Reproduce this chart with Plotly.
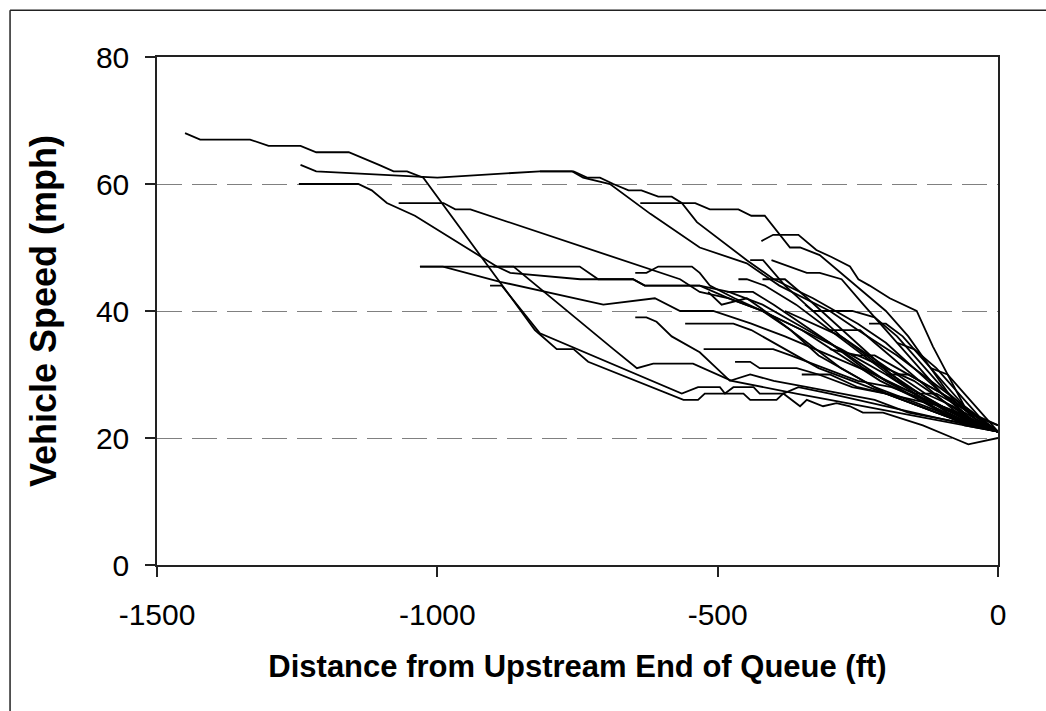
import plotly.graph_objects as go

# ---- data: distance from upstream end of queue (ft) and vehicle speed (mph) ----
v01_dist = [-1450, -1423, -1334, -1301, -1244, -1216, -1158, -1130, -1104, -1078, -1054, -1025, -826, -787, -757, -731, -561, -535, -523, -454, -442, -395, -383, -353, -341, -312, -288, -264, -241, -205, -134, -80, -53, 0]
v01_speed = [68, 67, 67, 66, 66, 65, 65, 64, 63, 62, 62, 61, 37, 34, 34, 32, 26, 26, 27, 27, 26, 26, 27, 25, 26, 25, 25.5, 25, 24, 24, 22, 20, 19, 20]
v02_dist = [-1244, -1216, -1000, -817, -791, -757, -733, -710, -686, -659, -636, -606, -582, -564, -537, -448, -400, -330, -250, -200, -150, -100, -50, 0]
v02_speed = [63, 62, 61, 62, 62, 62, 61, 61, 60, 59, 59, 58, 58, 57, 54, 48, 45, 42, 38, 35, 31, 27, 24, 21]
v03_dist = [-1247, -1141, -1117, -1090, -1040, -977, -894, -870, -745, -713, -651, -630, -532, -480, -420, -350, -280, -210, -140, -70, 0]
v03_speed = [60, 60, 59, 57, 55, 51.5, 47, 46, 45, 45, 45, 44, 44, 42, 40, 37, 33, 29, 26, 23, 21]
v04_dist = [-817, -790, -760, -740, -692, -620, -532, -448, -390, -300, -250, -180, -120, -60, 0]
v04_speed = [62, 62, 62, 61, 60, 55.3, 50, 47.5, 44, 40, 37, 33, 29, 25, 21]
v05_dist = [-1069, -989, -968, -941, -567, -532, -480, -420, -350, -280, -200, -130, -60, 0]
v05_speed = [57, 57, 56, 56, 45, 43, 42, 40, 37, 34, 30, 26, 23, 21]
v06_dist = [-906, -885, -817, -751, -564, -535, -496, -487, -472, -436, -425, -383, -356, -300, -250, -200, -150, -100, -50, 0]
v06_speed = [44, 44, 36.5, 34, 27, 28, 28, 27, 28, 28, 27, 27, 28, 27, 26, 25, 24, 23, 22, 21]
v07_dist = [-1031, -990, -888, -704, -612, -567, -532, -508, -440, -380, -300, -220, -150, -80, 0]
v07_speed = [47, 47, 44.6, 41, 42, 40, 40, 40, 38, 36, 33, 30, 27, 24, 21]
v08_dist = [-422, -401, -356, -324, -297, -264, -249, -229, -193, -169, -145, -116, -60, 0]
v08_speed = [51, 52, 52, 49.6, 48.5, 47, 45, 44, 42, 41, 40, 34.4, 25, 21]
v09_dist = [-638, -540, -514, -463, -440, -416, -371, -353, -318, -280, -240, -200, -160, -120, -80, -40, 0]
v09_speed = [57, 57, 56, 56, 55, 55, 50, 50, 48.8, 46, 43, 40, 36, 31, 26, 23, 21]
v10_dist = [-442, -419, -380, -330, -280, -220, -160, -100, -50, 0]
v10_speed = [48, 48, 44, 40, 36, 32, 28, 25, 23, 21]
v11_dist = [-404, -341, -318, -279, -240, -200, -150, -100, -50, 0]
v11_speed = [48, 46, 46, 45, 41, 37, 32, 27, 23, 21]
v12_dist = [-463, -448, -416, -360, -300, -240, -180, -120, -60, 0]
v12_speed = [45, 45, 44, 41, 37, 33, 29, 26, 23, 21]
v13_dist = [-1031, -746, -713, -651, -630, -532, -480, -420, -360, -300, -240, -180, -120, -60, 0]
v13_speed = [47, 47, 45, 45, 44, 44, 43, 41, 38, 35, 31, 28, 25, 22, 21]
v14_dist = [-647, -627, -606, -546, -532, -514, -470, -420, -370, -320, -260, -200, -140, -80, 0]
v14_speed = [46, 46, 47, 47, 46, 44, 42, 40, 37, 33, 30, 27, 25, 23, 21]
v15_dist = [-647, -627, -609, -582, -532, -478, -442, -400, -340, -280, -220, -160, -100, -40, 0]
v15_speed = [39, 39, 38.3, 36, 33.5, 29, 30, 29, 28, 27, 26, 24, 23, 22, 21]
v16_dist = [-558, -472, -440, -380, -320, -260, -200, -140, -80, 0]
v16_speed = [38, 38, 37, 34, 31, 29, 27, 25, 23, 21]
v17_dist = [-525, -401, -370, -310, -250, -190, -130, -70, 0]
v17_speed = [34, 34, 33, 31, 29, 28, 26, 24, 21]
v18_dist = [-900, -864, -686, -644, -615, -544, -475, -420, -360, -300, -240, -180, -120, -60, 0]
v18_speed = [47, 47, 34, 31, 31.7, 31.7, 29, 28, 27, 26, 25, 24, 23, 22, 21]
v19_dist = [-469, -442, -425, -359, -320, -260, -200, -140, -80, 0]
v19_speed = [32, 32, 31, 31, 30, 28, 27, 25, 23, 21]
v20_dist = [-300, -246, -220, -180, -140, -100, -50, 0]
v20_speed = [37, 37, 35, 32, 29, 26, 23, 21]
v21_dist = [-484, -437, -400, -350, -300, -250, -200, -150, -100, -50, 0]
v21_speed = [43, 43, 41, 38, 35, 32, 29, 27, 24, 22, 21]
v22_dist = [-344, -330, -260, -220, -180, -140, -100, -50, 0]
v22_speed = [41, 40, 40, 39, 36, 32, 28, 24, 21]
v23_dist = [-517, -493, -448, -400, -340, -280, -220, -160, -100, -50, 0]
v23_speed = [43, 41, 42, 39, 35, 31, 28, 26, 24, 22, 21]
v24_dist = [-260, -220, -180, -140, -100, -60, 0]
v24_speed = [33, 33, 31, 29, 27, 24, 21]
v25_dist = [-200, -160, -120, -80, -40, 0]
v25_speed = [30, 30, 28, 26, 23, 21]
v26_dist = [-150, -110, -70, -30, 0]
v26_speed = [27, 27, 25, 23, 22]
v27_dist = [-350, -300, -250, -200, -150, -100, -50, 0]
v27_speed = [30, 30, 28, 27, 26, 25, 23, 21]
v28_dist = [-300, -250, -200, -150, -100, -60, 0]
v28_speed = [34, 33, 31, 29, 26, 23, 21]
v29_dist = [-420, -380, -340, -290, -240, -190, -140, -90, -40, 0]
v29_speed = [45, 45, 42, 38, 34, 30, 27, 24, 22, 21]
v30_dist = [-380, -330, -280, -230, -180, -130, -80, -30, 0]
v30_speed = [40, 38, 36, 33, 30, 27, 25, 22, 21]
v31_dist = [-230, -200, -170, -130, -90, -50, 0]
v31_speed = [38, 38, 36, 32, 28, 24, 22]
v32_dist = [-180, -150, -110, -70, -30, 0]
v32_speed = [35, 34, 31, 27, 23, 21]
v33_dist = [-120, -90, -60, -30, 0]
v33_speed = [31, 30, 27, 24, 21]

vehicles = [
    (v01_dist, v01_speed), (v02_dist, v02_speed), (v03_dist, v03_speed), (v04_dist, v04_speed),
    (v05_dist, v05_speed), (v06_dist, v06_speed), (v07_dist, v07_speed), (v08_dist, v08_speed),
    (v09_dist, v09_speed), (v10_dist, v10_speed), (v11_dist, v11_speed), (v12_dist, v12_speed),
    (v13_dist, v13_speed), (v14_dist, v14_speed), (v15_dist, v15_speed), (v16_dist, v16_speed),
    (v17_dist, v17_speed), (v18_dist, v18_speed), (v19_dist, v19_speed), (v20_dist, v20_speed),
    (v21_dist, v21_speed), (v22_dist, v22_speed), (v23_dist, v23_speed), (v24_dist, v24_speed),
    (v25_dist, v25_speed), (v26_dist, v26_speed), (v27_dist, v27_speed), (v28_dist, v28_speed),
    (v29_dist, v29_speed), (v30_dist, v30_speed), (v31_dist, v31_speed), (v32_dist, v32_speed),
    (v33_dist, v33_speed),
]

x_ticks = [-1500, -1000, -500, 0]
y_ticks = [0, 20, 40, 60, 80]
x_title = "Distance from Upstream End of Queue (ft)"
y_title = "Vehicle Speed (mph)"

fig = go.Figure()
for i, (d, s) in enumerate(vehicles, start=1):
    fig.add_trace(go.Scatter(x=d, y=s, mode="lines", name=f"Vehicle {i}",
                             line=dict(color="black", width=1.8), showlegend=False))

FONT = "Liberation Sans, Arial, sans-serif"
# the page margin is removed below, so the figure fills the whole window;
# plot area sits at x 157..998, y 57..565
fig.update_layout(
    width=1046, height=711, autosize=False,
    paper_bgcolor="white", plot_bgcolor="white",
    margin=dict(l=157, r=48, t=57, b=146),
    font=dict(family=FONT, color="black"),
    showlegend=False,
)
fig.update_xaxes(
    range=[-1500, 0], tickvals=x_ticks, ticktext=[str(v) for v in x_ticks],
    showgrid=False, zeroline=False,
    showline=True, linecolor="#222", linewidth=1.5, mirror=True,
    ticks="outside", ticklen=10, tickwidth=1.5, tickcolor="#222",
    tickfont=dict(size=30, family=FONT), ticklabelstandoff=12,
    title=dict(text=f"<b>{x_title}</b>", font=dict(size=31, family=FONT), standoff=26),
)
fig.update_yaxes(
    range=[0, 80], tickvals=y_ticks,
    showgrid=True, gridcolor="#808080", gridwidth=1.2, griddash="25px,10px",
    zeroline=False,
    showline=True, linecolor="#222", linewidth=1.5, mirror=True,
    ticks="outside", ticklen=10, tickwidth=1.5, tickcolor="#222",
    tickfont=dict(size=30, family=FONT), ticklabelstandoff=10,
    title=dict(text=f"<b>{y_title}</b>", font=dict(size=36, family=FONT), standoff=28),
)
# outer chart frame: only its left and top edges fall inside the picture
px_to_xpaper = lambda px: (px - 157) / 841.3
py_to_ypaper = lambda py: (565 - py) / 508.3
fig.add_shape(type="line", xref="paper", yref="paper",
              x0=px_to_xpaper(10), x1=px_to_xpaper(10),
              y0=py_to_ypaper(10), y1=py_to_ypaper(760),
              line=dict(color="#222", width=1.5), layer="below")
fig.add_shape(type="line", xref="paper", yref="paper",
              x0=px_to_xpaper(10), x1=px_to_xpaper(1100),
              y0=py_to_ypaper(10), y1=py_to_ypaper(10),
              line=dict(color="#222", width=1.5), layer="below")

fig.write_html(
    "out.html",
    config={"displayModeBar": False},
    post_script="document.body.style.margin='0px';document.documentElement.style.overflow='hidden';",
)
